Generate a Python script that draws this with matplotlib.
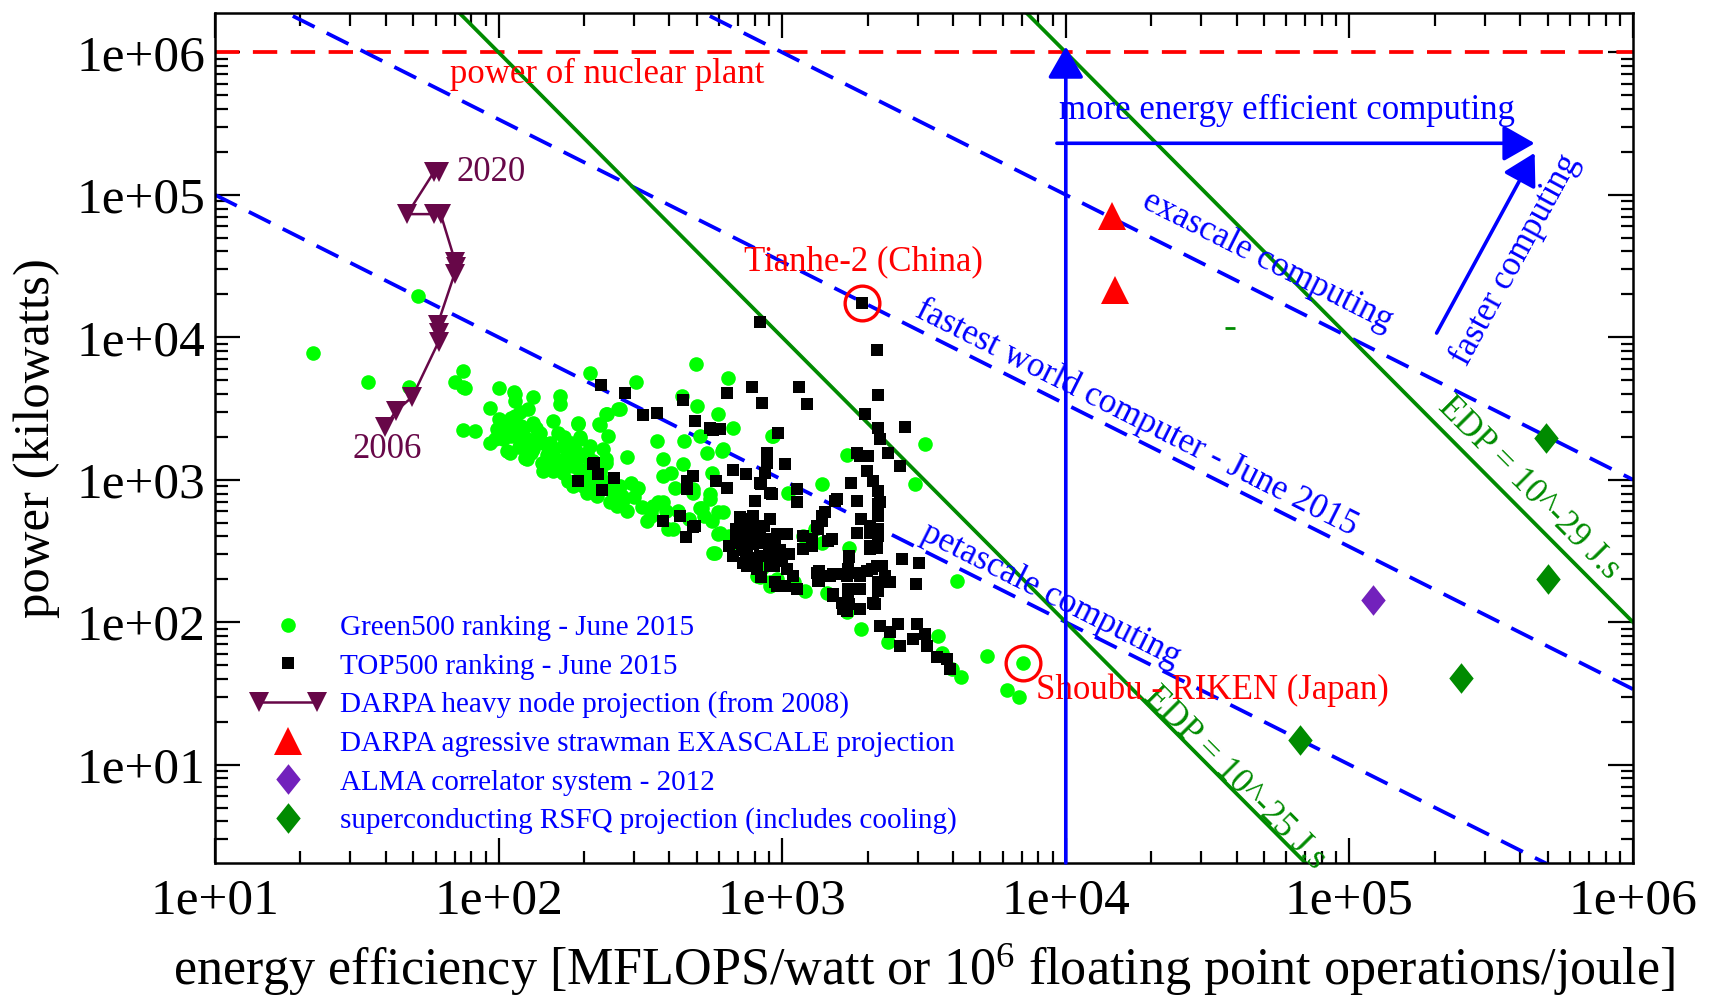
import matplotlib
matplotlib.use('Agg')
import matplotlib.pyplot as plt
import numpy as np
from matplotlib.legend_handler import HandlerLine2D
from matplotlib.path import Path
from matplotlib.ticker import LogLocator, FuncFormatter, NullFormatter, FixedLocator

plt.rcParams['font.family'] = ['Liberation Serif', 'DejaVu Serif']
plt.rcParams['mathtext.fontset'] = 'custom'
plt.rcParams['mathtext.rm'] = 'Liberation Serif'
plt.rcParams['mathtext.it'] = 'Liberation Serif:italic'

# ---------------- data ----------------
green500_eff = [22.2, 34.5, 48.4, 52, 75.2, 70.2, 76.3, 75, 82.6, 100, 93, 113, 93, 100, 107, 107,
                114, 132, 164, 164, 210, 305, 264, 242, 228, 244, 191, 156, 114, 107, 126, 144, 169, 194,
                110, 126, 144, 169, 183, 199, 234, 283, 240, 176, 199, 222, 247, 283, 268, 307, 228, 361,
                381, 407, 381, 419, 448, 442, 500, 497, 452, 513, 542, 596, 646, 672, 612, 564, 556, 596,
                486, 513, 346, 333, 381, 413, 571, 604, 918, 813, 906,
                3190, 2940, 4120, 1690, 1378, 1050, 1720, 930, 1300,
                1900, 2370, 3550, 3650, 3960, 4270, 5260, 7050, 6220, 6840, 1200, 1435, 1690,
                75, 114, 98.5, 111, 119, 127, 132, 122, 111, 119, 124, 132, 140, 142, 156, 162, 152, 165,
                174, 183, 191, 194, 188, 194, 183, 205, 261, 272, 311, 294, 251, 228, 240, 226, 240, 268,
                351, 397, 144, 156, 169, 210, 216, 261, 210, 205, 210, 222, 140, 115, 104, 97, 126, 107, 115,
                619, 485, 556, 520, 619, 564, 596, 580, 1186, 1378, 836, 906,
                105, 118, 130, 150, 170, 185, 150, 135, 170, 180, 200, 215, 190, 160, 120, 138, 148, 178,
                200, 232, 255, 275, 300, 320, 345, 365, 390, 430, 470, 530, 650, 700, 760, 850, 960, 1100]
green500_power = [7700, 4850, 4510, 19500, 5800, 4850, 4370, 2230, 2200, 4370, 3210, 4100, 1820, 2660, 2140, 1590,
                  4000, 3780, 3870, 3390, 5650, 4850, 3125, 2880, 2410, 2030, 2520, 2590, 2800, 2390, 1920, 1820, 1730, 1980,
                  1550, 1390, 1290, 1250, 1470, 1470, 1640, 1455, 1390, 982, 906, 771, 692, 604, 906, 857, 1120, 1870,
                  1390, 1120, 1060, 880, 1290, 3870, 3300, 6470, 1870, 2030, 1550, 2880, 5210, 2320, 1590, 1120, 730, 589,
                  813, 638, 589, 514, 692, 450, 308, 426, 2030, 211, 190,
                  1780, 939, 195, 1500, 929, 813, 334, 2030, 450,
                  89, 72, 80, 61, 47, 41, 58, 51.5, 33.5, 29.7, 166, 159, 117,
                  4440, 3570, 2260, 2730, 2970, 3125, 2520, 2260, 2030, 1870, 1430, 1640, 1870, 1320, 1550, 2140, 1820, 1350,
                  1640, 1250, 2450, 1920, 1590, 1060, 906, 813, 655, 771, 880, 955, 906, 1150, 1320, 2450, 2880, 3125,
                  655, 450, 1150, 1150, 1120, 1060, 955, 813, 1250, 1550, 1730, 1250, 2140, 2140, 1920, 1920, 1730, 2520, 2520,
                  1640, 857, 791, 638, 589, 514, 417, 308, 404, 362, 206, 180,
                  2000, 1700, 1550, 1420, 1400, 1350, 1650, 2300, 2000, 1800, 1150, 1350, 1200, 1250, 2400, 2050, 1500, 1580,
                  1000, 1000, 800, 720, 760, 640, 560, 700, 600, 600, 530, 560, 400, 350, 280, 240, 200, 190]

top500_eff = [1905, 836, 229, 280, 322, 363, 446, 494, 637, 785, 849, 571, 604, 672, 743, 586, 637, 460, 460,
              217, 224, 255, 190, 232, 381, 436, 483, 458, 881, 881, 968, 845, 918, 802, 791, 710, 906, 690, 791,
              881, 672, 729, 813, 906, 957, 769, 750,
              2163, 2180, 1960, 2180, 2710, 2210, 2370, 2600, 1150, 1220, 1023, 870, 906, 1125, 1125, 1833, 1880,
              2015, 1988, 2095, 2180, 2180, 2180, 2180, 2042, 1833, 2153, 2042, 1746, 1556, 1833, 1416, 1378, 1340,
              1186, 1270, 1496, 1726, 1324, 1340, 1470, 1640, 1807, 1988, 2153, 2300, 2180, 2400, 1514, 1622, 1690,
              1880, 2123, 1710, 1880, 2640, 3040, 2970,
              1710, 2210, 2180, 1640, 2210, 2400, 2570, 2600, 2980, 2900, 3190, 3230, 3510, 3800, 3910,
              216, 836, 493, 710, 780, 690, 758, 836, 955, 1038, 690, 791, 870, 944, 743, 836, 918, 750, 813, 933,
              1038, 1094, 845, 944, 1023, 1125, 1186, 1270, 1324, 1378, 1445, 1530, 2210, 1900, 2042, 2180, 2042,
              1720, 1350, 1350, 1514, 1690, 1880, 2066, 2240, 2180, 1514, 1710, 1720, 2095, 485, 556,
              720, 760, 800, 860, 700, 740, 780, 820, 900, 980, 650, 720, 800, 1000, 1060]
top500_power = [17500, 12800, 4600, 4030, 2840, 2930, 3610, 2600, 4050, 4510, 3430, 2230, 2260, 1170, 1090, 982, 880, 982, 857,
                1300, 1090, 1035, 982, 844, 509, 557, 467, 397, 1550, 1320, 2140, 929, 791, 709, 557, 514, 528, 426, 426,
                382, 292, 262, 236, 248, 180, 382, 325,
                8150, 3940, 2880, 2320, 2360, 1920, 1550, 1250, 4510, 3390, 1290, 1120, 813, 857, 692, 1550, 1470,
                1470, 1150, 982, 834, 673, 557, 450, 426, 426, 334, 343, 955, 730, 709, 589, 514, 450,
                404, 343, 382, 289, 223, 195, 211, 217, 223, 229, 248, 211, 180, 190, 153, 137, 120,
                123, 134, 171, 171, 277, 259, 184,
                236, 248, 166, 123, 94, 85, 97, 68, 97, 76, 82, 68, 56.5, 55, 46.8,
                1290, 955, 475, 543, 528, 450, 426, 438, 417, 417, 362, 352, 362, 343, 292, 292, 300, 248, 241, 248,
                236, 211, 206, 190, 180, 171, 325, 382, 475, 557, 372, 709, 692, 528, 475, 404, 325,
                292, 229, 195, 217, 211, 211, 236, 248, 190, 157, 157, 134, 137, 1060, 2320,
                470, 480, 460, 470, 390, 400, 390, 400, 330, 320, 340, 320, 280, 270, 300]

darpa_heavy_eff = [39.8, 43.4, 49.6, 61.5, 61.5, 60.9, 70.0, 70.8, 70.3, 62.5, 59.1, 47.6, 59.1, 61.5]
darpa_heavy_power = [2340, 3025, 3810, 9330, 10700, 12250, 28000, 31000, 34000, 73200, 73200, 73200, 144000, 144000]

strawman_eff = [14550, 14900]
strawman_power = [70800, 21300]

alma_eff = [121000]
alma_power = [144]

rsfq_eff = [66800, 248000, 500000, 492000]
rsfq_power = [15, 40.4, 201, 1960]

tianhe_eff, tianhe_power = 1905, 17500
shoubu_eff, shoubu_power = 7050, 51.5

nuclear_plant_kw = 1e6
# sustained performance in MFLOPS: power[kW] = perf / (1000 * eff)
petascale_mflops = 1e9
fastest_mflops = 33.86e9
exascale_mflops = 1e12
# EDP lines: power = C / eff^2
edp_coeffs = [1e10, 1e14]

x_ticks = [1e1, 1e2, 1e3, 1e4, 1e5, 1e6]
y_ticks = [1e1, 1e2, 1e3, 1e4, 1e5, 1e6]

# ---------------- colours ----------------
C_BLUE = '#0000ff'
C_RED = '#ff0000'
C_LIME = '#00ff00'
C_GREEN4 = '#008b00'
C_MAROON = '#670748'
C_INDIGO = '#7221bc'

fig = plt.figure(figsize=(17.13, 9.98), dpi=100)
ax = fig.add_axes([0.1255, 0.1353, 0.8278, 0.8517])
ax.set_xscale('log')
ax.set_yscale('log')
ax.set_xlim(1e1, 1e6)
ax.set_ylim(2.04, 1.89e6)

xs = np.logspace(1, 6, 400)
dash = (0, (6.5, 3.6))
LW = 2.7
ax.axhline(nuclear_plant_kw, color=C_RED, lw=LW, ls=dash, zorder=2)
for perf in (petascale_mflops, fastest_mflops, exascale_mflops):
    ax.plot(xs, perf / (1000.0 * xs), color=C_BLUE, lw=LW, ls=dash, zorder=2)
for c in edp_coeffs:
    ax.plot(xs, c / xs ** 2, color=C_GREEN4, lw=LW, zorder=2)

# diamond marker (slightly narrow)
diamond = Path([(0, 1), (0.8, 0), (0, -1), (-0.8, 0), (0, 1)],
               [Path.MOVETO, Path.LINETO, Path.LINETO, Path.LINETO, Path.CLOSEPOLY])

h_green, = ax.plot(green500_eff, green500_power, 'o', color=C_LIME, ms=10.5, mew=0, ls='none', zorder=3,
                   label='Green500 ranking - June 2015')
h_top, = ax.plot(top500_eff, top500_power, 's', color='black', ms=8.8, mew=0, ls='none', zorder=4,
                 label='TOP500 ranking - June 2015')
h_darpa, = ax.plot(darpa_heavy_eff, darpa_heavy_power, 'v-', color=C_MAROON, ms=14, mew=0, lw=1.8, zorder=5,
                   label='DARPA heavy node projection (from 2008)')
h_straw, = ax.plot(strawman_eff, strawman_power, '^', color=C_RED, ms=20, mew=0, ls='none', zorder=5,
                   label='DARPA agressive strawman EXASCALE projection')
h_alma, = ax.plot(alma_eff, alma_power, marker=diamond, color=C_INDIGO, ms=22, mew=0, ls='none', zorder=5,
                  label='ALMA correlator system - 2012')
h_rsfq, = ax.plot(rsfq_eff, rsfq_power, marker=diamond, color=C_GREEN4, ms=22, mew=0, ls='none', zorder=5,
                  label='superconducting RSFQ projection (includes cooling)')

# red circles around highlighted systems
ax.plot([tianhe_eff, shoubu_eff], [tianhe_power, shoubu_power], 'o', mfc='none', mec=C_RED, mew=2.4,
        ms=25, ls='none', zorder=6)

# small stray green dash
ax.plot([3.8e4], [1.17e4], marker='_', color=C_GREEN4, ms=7, mew=2, ls='none', zorder=3)

# arrows
arrow_kw = dict(arrowstyle='-|>,head_length=0.42,head_width=0.24', color=C_BLUE, lw=2.6,
                mutation_scale=46, shrinkA=0, shrinkB=0)
ax.annotate('', xy=(1e4, 1.1e6), xytext=(1e4, 2.04), arrowprops=arrow_kw, zorder=7)
ax.annotate('', xy=(4.5e5, 2.3e5), xytext=(9300, 2.3e5), arrowprops=arrow_kw, zorder=7)
ax.annotate('', xy=(4.5e5, 1.97e5), xytext=(2.03e5, 1.07e4), arrowprops=arrow_kw, zorder=7)


def angle(x1, y1, x2, y2):
    p = ax.transData.transform([(x1, y1), (x2, y2)])
    return np.degrees(np.arctan2(p[1, 1] - p[0, 1], p[1, 0] - p[0, 0]))


ang_blue = angle(1e3, 1e3, 1e4, 1e2)
ang_edp = angle(1e3, 1e4, 1e4, 1e2)
ang_fast = angle(2.03e5, 1.07e4, 4.5e5, 1.97e5)

fs_txt = 25
ax.text(67.3, 7.0e5, 'power of nuclear plant', color=C_RED, fontsize=fs_txt, ha='left', va='center')
ax.text(9500, 3.93e5, 'more energy efficient computing', color=C_BLUE, fontsize=fs_txt, ha='left', va='center')
ax.text(5.13e4, 3.4e4, 'exascale computing', color=C_BLUE, fontsize=fs_txt, ha='center', va='center',
        rotation=ang_blue, rotation_mode='anchor')
ax.text(1.77e4, 2700, 'fastest world computer - June 2015', color=C_BLUE, fontsize=fs_txt, ha='center',
        va='center', rotation=ang_blue, rotation_mode='anchor')
ax.text(8850, 154, 'petascale computing', color=C_BLUE, fontsize=fs_txt, ha='center', va='center',
        rotation=ang_blue, rotation_mode='anchor')
ax.text(3.93e4, 8.1, 'EDP = 10^-25 J.s', color=C_GREEN4, fontsize=fs_txt, ha='center', va='center',
        rotation=ang_edp, rotation_mode='anchor')
ax.text(4.3e5, 871, 'EDP = 10^-29 J.s', color=C_GREEN4, fontsize=fs_txt, ha='center', va='center',
        rotation=ang_edp, rotation_mode='anchor')
ax.text(3.87e5, 3.49e4, 'faster computing', color=C_BLUE, fontsize=fs_txt, ha='center', va='center',
        rotation=ang_fast, rotation_mode='anchor')
ax.text(1940, 3.37e4, 'Tianhe-2 (China)', color=C_RED, fontsize=fs_txt, ha='center', va='center')
ax.text(7820, 33.2, 'Shoubu - RIKEN (Japan)', color=C_RED, fontsize=fs_txt, ha='left', va='center')
ax.text(71, 1.43e5, '2020', color=C_MAROON, fontsize=fs_txt, ha='left', va='center')
ax.text(30.5, 1620, '2006', color=C_MAROON, fontsize=fs_txt, ha='left', va='center')

# axes styling
ax.xaxis.set_major_locator(FixedLocator(x_ticks))
ax.yaxis.set_major_locator(FixedLocator(y_ticks))
ax.xaxis.set_minor_locator(LogLocator(base=10, subs=np.arange(2, 10), numticks=50))
ax.yaxis.set_minor_locator(LogLocator(base=10, subs=np.arange(2, 10), numticks=50))
fmt = FuncFormatter(lambda v, p: '%.0e' % v)
ax.xaxis.set_major_formatter(fmt)
ax.yaxis.set_major_formatter(fmt)
ax.xaxis.set_minor_formatter(NullFormatter())
ax.yaxis.set_minor_formatter(NullFormatter())
ax.tick_params(which='both', direction='in', top=True, right=True, width=1.6, colors='black')
ax.tick_params(which='major', length=18, labelsize=37)
ax.tick_params(axis='x', which='major', pad=11)
ax.tick_params(axis='y', which='major', pad=7)
ax.tick_params(which='minor', length=9)
for s in ax.spines.values():
    s.set_linewidth(1.8)

ax.set_xlabel(r'energy efficiency [MFLOPS/watt or $\mathrm{10}^{\mathrm{6}}$ floating point operations/joule]',
              fontsize=37.5, labelpad=12)
ax.set_ylabel('power (kilowatts)', fontsize=36.5, labelpad=12)

leg = ax.legend(handles=[h_green, h_top, h_darpa, h_straw, h_alma, h_rsfq], loc='upper left',
                bbox_to_anchor=(0.0247, 0.292), frameon=False, fontsize=21, numpoints=1,
                handlelength=2.6, handletextpad=0.5, labelspacing=0.41, borderpad=0, borderaxespad=0,
                handler_map={h_darpa: HandlerLine2D(numpoints=2)})
for t in leg.get_texts():
    t.set_color(C_BLUE)

fig.savefig('out.png', dpi=100)
